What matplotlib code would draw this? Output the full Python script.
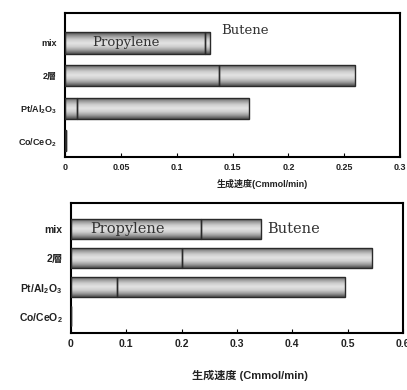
import matplotlib
matplotlib.use('Agg')
import matplotlib.pyplot as plt
import numpy as np
from matplotlib.colors import LinearSegmentedColormap

plt.rcParams['font.family'] = ['Liberation Sans', 'Noto Sans CJK JP', 'DejaVu Sans']
plt.rcParams['mathtext.fontset'] = 'custom'
plt.rcParams['mathtext.rm'] = 'Liberation Sans:bold'
plt.rcParams['mathtext.it'] = 'Liberation Sans:bold'
plt.rcParams['mathtext.bf'] = 'Liberation Sans:bold'
plt.rcParams['mathtext.default'] = 'rm'

catalysts = ['Co/CeO$_2$', 'Pt/Al$_2$O$_3$', '2層', 'mix']

# top chart (Cmmol/min)
top_propylene = [0.001, 0.011, 0.138, 0.125]
top_butene = [0.0, 0.154, 0.122, 0.005]
top_ticks = [0, 0.05, 0.1, 0.15, 0.2, 0.25, 0.3]
top_ticklabels = ['0', '0.05', '0.1', '0.15', '0.2', '0.25', '0.3']

# bottom chart
bot_propylene = [0.001, 0.083, 0.200, 0.235]
bot_butene = [0.0, 0.412, 0.345, 0.108]
bot_ticks = [0, 0.1, 0.2, 0.3, 0.4, 0.5, 0.6]
bot_ticklabels = ['0', '0.1', '0.2', '0.3', '0.4', '0.5', '0.6']

cyl = LinearSegmentedColormap.from_list(
    'cyl', ['#4e4e4e', '#9c9c9c', '#cfcfcf', '#e4e4e4', '#cccccc', '#969696', '#4a4a4a'])
grad = np.linspace(0, 1, 64).reshape(-1, 1)


def gradient_bars(ax, bars):
    for b in bars:
        x0, y0, w, h = b.get_x(), b.get_y(), b.get_width(), b.get_height()
        if w <= 0:
            continue
        im = ax.imshow(grad, extent=[x0, x0 + w, y0, y0 + h], aspect='auto',
                       cmap=cyl, origin='lower', zorder=2, interpolation='bicubic')
        im.set_clip_path(b)


def draw(ax, prop, but, ticks, ticklabels, xmax, h, ylim, fs):
    y = np.arange(len(catalysts))
    b1 = ax.barh(y, prop, height=h, facecolor='none', edgecolor='#2a2a2a', lw=1.0, zorder=3)
    b2 = ax.barh(y, but, left=prop, height=h, facecolor='none', edgecolor='#2a2a2a', lw=1.0, zorder=3)
    gradient_bars(ax, b1)
    gradient_bars(ax, b2)
    ax.set_xlim(0, xmax)
    ax.set_ylim(*ylim)
    ax.set_xticks(ticks)
    ax.set_xticklabels(ticklabels, fontsize=fs, fontweight='bold', color='#222222')
    ax.set_yticks(y)
    ax.set_yticklabels(catalysts, fontsize=fs, fontweight='bold', color='#222222')
    ax.tick_params(axis='x', direction='in', length=3, pad=4)
    ax.tick_params(axis='y', length=0, pad=6)
    for s in ax.spines.values():
        s.set_linewidth(1.5)


fig = plt.figure(figsize=(4.07, 3.90), dpi=100)

ax1 = fig.add_axes([0.160, 0.597, 0.823, 0.370])
draw(ax1, top_propylene, top_butene, top_ticks, top_ticklabels, 0.3, 0.65, (-0.5, 3.92), 6.5)
ax1.text(0.024, 3, 'Propylene', family='DejaVu Serif', fontsize=9.5, color='#333333',
         va='center', ha='left', zorder=5)
ax1.text(0.14, 3.38, 'Butene', family='DejaVu Serif', fontsize=9.5, color='#333333',
         va='center', ha='left', zorder=5)
ax1.set_xlabel('生成速度(Cmmol/min)', fontsize=6.5, fontweight='bold', color='#222222')
ax1.xaxis.set_label_coords(0.59, -0.15)

ax2 = fig.add_axes([0.174, 0.146, 0.816, 0.333])
draw(ax2, bot_propylene, bot_butene, bot_ticks, bot_ticklabels, 0.6, 0.7, (-0.6, 3.89), 7.5)
ax2.text(0.035, 3, 'Propylene', family='DejaVu Serif', fontsize=10.5, color='#333333',
         va='center', ha='left', zorder=5)
ax2.text(0.355, 3, 'Butene', family='DejaVu Serif', fontsize=10.5, color='#333333',
         va='center', ha='left', zorder=5)
ax2.set_xlabel('生成速度 (Cmmol/min)', fontsize=8, fontweight='bold', color='#222222')
ax2.xaxis.set_label_coords(0.54, -0.28)

fig.savefig('out.png', dpi=100)
